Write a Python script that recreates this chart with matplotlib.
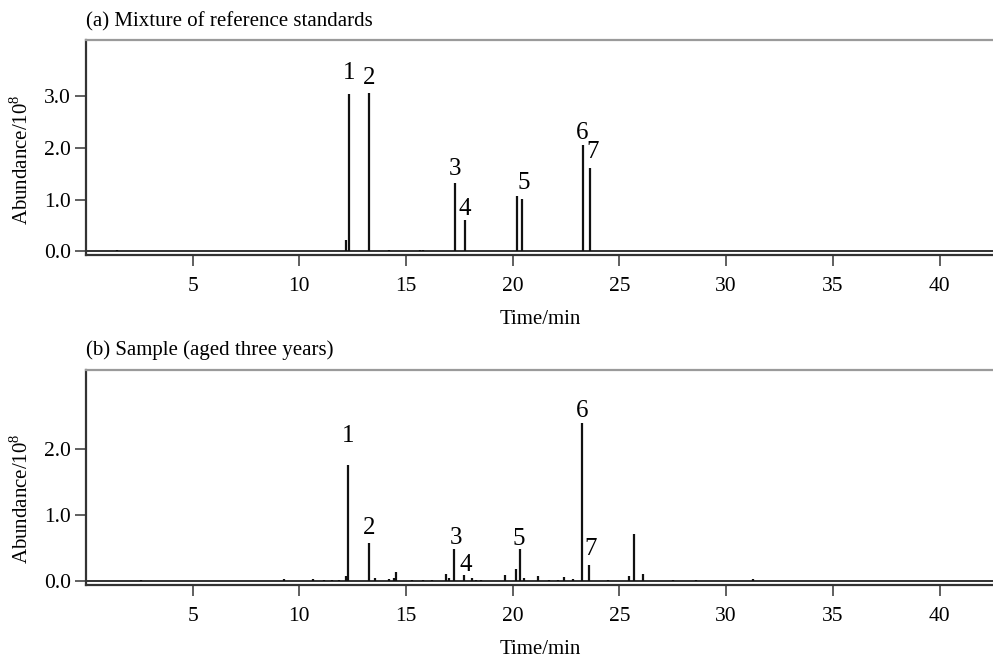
import matplotlib
matplotlib.use("Agg")
import matplotlib.pyplot as plt

plt.rcParams['font.family'] = ['Liberation Serif', 'DejaVu Serif']
plt.rcParams['mathtext.fontset'] = 'custom'
plt.rcParams['mathtext.rm'] = 'Liberation Serif'

# ---- Data: (a) mixture of reference standards ----
rt_a = [1.44, 12.19, 12.34, 13.28, 14.20, 15.66, 15.78, 17.30, 17.74, 18.1,
        20.18, 20.45, 23.27, 23.60]
h_a = [0.03, 0.23, 3.04, 3.07, 0.03, 0.02, 0.02, 1.33, 0.60, 0.01,
       1.08, 1.02, 2.05, 1.62]
lab_a = ["1", "2", "3", "4", "5", "6", "7"]
lab_a_x = [12.35, 13.28, 17.28, 17.76, 20.5, 23.27, 23.75]
lab_a_y = [3.45, 3.35, 1.6, 0.82, 1.32, 2.3, 1.92]

# ---- Data: (b) sample aged three years ----
rt_b = [2.6, 9.27, 10.63, 11.17, 11.55, 11.85, 12.20, 12.30, 13.25, 13.55,
        14.20, 14.45, 14.55, 15.30, 15.80, 16.20, 16.87, 17.03, 17.25, 17.73,
        18.09, 18.30, 18.50, 19.66, 20.16, 20.35, 20.55, 21.16, 21.70, 22.10,
        22.42, 22.81, 23.25, 23.58, 24.45, 25.47, 25.70, 26.10, 27.5, 28.6,
        31.27]
h_b = [0.01, 0.03, 0.03, 0.02, 0.01, 0.02, 0.08, 1.76, 0.58, 0.04,
       0.03, 0.05, 0.13, 0.01, 0.01, 0.015, 0.10, 0.04, 0.48, 0.09,
       0.04, 0.02, 0.02, 0.09, 0.19, 0.48, 0.04, 0.08, 0.01, 0.015,
       0.06, 0.03, 2.39, 0.24, 0.02, 0.08, 0.71, 0.10, 0.01, 0.01,
       0.03]
lab_b = ["1", "2", "3", "4", "5", "6", "7"]
lab_b_x = [12.28, 13.25, 17.33, 17.78, 20.3, 23.27, 23.65]
lab_b_y = [2.2, 0.81, 0.66, 0.25, 0.64, 2.58, 0.48]

xticks = [5, 10, 15, 20, 25, 30, 35, 40]
xlim = (0, 42.6)

fig = plt.figure(figsize=(9.93, 6.61), dpi=100)
W, H = 993, 661

def make_ax(top_px, bot_px):
    return fig.add_axes([86 / W, 1 - bot_px / H, 1 - 86 / W + 0.002,
                         (bot_px - top_px) / H])

ax_a = make_ax(40, 255)
ax_b = make_ax(370, 585)

def style(ax, ylim, yticks):
    ax.set_xlim(*xlim)
    ax.set_ylim(*ylim)
    ax.set_xticks(xticks)
    ax.set_xticklabels([str(t) for t in xticks])
    ax.set_yticks(yticks)
    ax.set_yticklabels([f"{v:.1f}" for v in yticks])
    ax.tick_params(axis='both', direction='out', length=8, width=1.2,
                   color='#444444', labelsize=15.5, pad=3)
    ax.tick_params(axis='x', pad=8)
    ax.spines['right'].set_visible(False)
    ax.spines['top'].set_color('#9a9a9a')
    ax.spines['top'].set_linewidth(1.6)
    for s in ('left', 'bottom'):
        ax.spines[s].set_color('#333333')
        ax.spines[s].set_linewidth(1.6)
    ax.set_xlabel("Time/min", fontsize=15, labelpad=10)

def draw(ax, rt, h, labs, lx, ly):
    ax.axhline(0, color='#222222', lw=1.3)
    ax.vlines(rt, 0, h, color='#111111', lw=1.6)
    for t, x, y in zip(labs, lx, ly):
        ax.text(x, y, t, fontsize=18, ha='center', va='center')

style(ax_a, (-0.068, 4.09), [0.0, 1.0, 2.0, 3.0])
draw(ax_a, rt_a, h_a, lab_a, lab_a_x, lab_a_y)
style(ax_b, (-0.06, 3.2), [0.0, 1.0, 2.0])
draw(ax_b, rt_b, h_b, lab_b, lab_b_x, lab_b_y)

fig.text(86 / W, 1 - 22 / H, "(a) Mixture of reference standards",
         fontsize=15, ha='left', va='center')
fig.text(86 / W, 1 - 350 / H, "(b) Sample (aged three years)",
         fontsize=15, ha='left', va='center')
fig.text(21 / W, 1 - 160 / H, r"Abundance/10$^{8}$", fontsize=15,
         rotation=90, ha='center', va='center')
fig.text(21 / W, 1 - 499 / H, r"Abundance/10$^{8}$", fontsize=15,
         rotation=90, ha='center', va='center')

fig.savefig("out.png", dpi=100)
